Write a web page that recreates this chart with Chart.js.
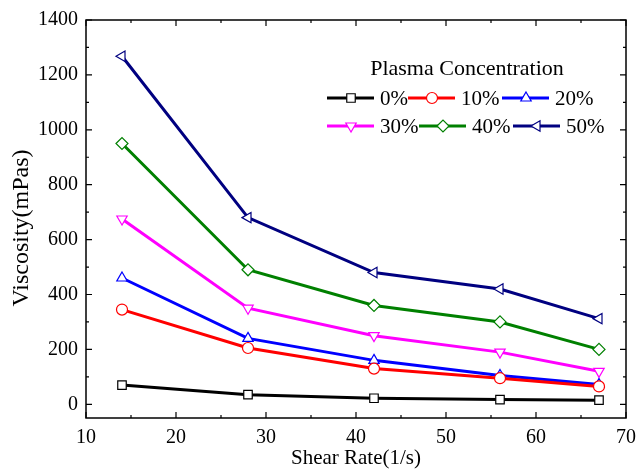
<!DOCTYPE html>
<html>
<head>
<meta charset="utf-8">
<script src="https://cdn.jsdelivr.net/npm/chart.js@4.4.1/dist/chart.umd.min.js"></script>
<style>
  html, body { margin: 0; padding: 0; background: #fff; }
  #wrap { width: 644px; height: 471px; }
</style>
</head>
<body>
<div id="wrap"><canvas id="viscChart" width="644" height="471"></canvas></div>
<script>
// shear rate (1/s)
const shearRates = [14, 28, 42, 56, 67];

// viscosity (mPas) per plasma concentration
const labels = ["0%", "10%", "20%", "30%", "40%", "50%"];
const visc0  = [70, 35, 22, 17, 15];
const visc10 = [345, 205, 130, 95, 65];
const visc20 = [460, 240, 160, 105, 72];
const visc30 = [675, 350, 250, 190, 120];
const visc40 = [950, 490, 360, 300, 200];
const visc50 = [1268, 680, 480, 420, 312];

const yTicks = [0, 200, 400, 600, 800, 1000, 1200, 1400];
const xTicks = [10, 20, 30, 40, 50, 60, 70];

const seriesColors = ["#000000", "#ff0000", "#0000ff", "#ff00ff", "#008000", "#000080"];
const seriesShapes = ["rect", "circle", "triangle", "triangle", "rectRot", "triangle"];
const seriesRot = [0, 0, 0, 180, 0, -90];
const allValues = [visc0, visc10, visc20, visc30, visc40, visc50];

const FONT = "'Liberation Serif', 'Times New Roman', serif";

const datasets = allValues.map((vals, i) => ({
    label: labels[i],
    data: vals.map((v, j) => ({ x: shearRates[j], y: v })),
    borderColor: seriesColors[i],
    borderWidth: 3,
    pointStyle: seriesShapes[i],
    pointRotation: seriesRot[i],
    pointRadius: seriesShapes[i] === "circle" ? 5.5 : 6,
    pointBackgroundColor: "#ffffff",
    pointBorderColor: seriesColors[i],
    pointBorderWidth: 1.2,
    tension: 0
}));

// ===================== BOX + INWARD TICKS + Y TITLE =====================
const frameTicks = {
    id: "frameTicks",
    afterDatasetsDraw(chart) {
        const { ctx, chartArea: a, scales: { x, y } } = chart;
        ctx.save();
        ctx.strokeStyle = "#000";
        ctx.lineWidth = 1.5;
        ctx.strokeRect(a.left, a.top, a.right - a.left, a.bottom - a.top);
        ctx.lineWidth = 1.2;
        ctx.beginPath();
        for (let v = 10; v <= 70; v += 5) {
            const px = x.getPixelForValue(v);
            const len = v % 10 === 0 ? 6 : 3;
            ctx.moveTo(px, a.bottom); ctx.lineTo(px, a.bottom - len);
            ctx.moveTo(px, a.top); ctx.lineTo(px, a.top + len);
        }
        for (let v = 0; v <= 1400; v += 100) {
            const py = y.getPixelForValue(v);
            const len = v % 200 === 0 ? 6 : 3;
            ctx.moveTo(a.left, py); ctx.lineTo(a.left + len, py);
            ctx.moveTo(a.right, py); ctx.lineTo(a.right - len, py);
        }
        ctx.stroke();

        // y axis title, a bit below the plot centre like the original
        ctx.translate(22, 228);
        ctx.rotate(-Math.PI / 2);
        ctx.fillStyle = "#000";
        ctx.font = "24px " + FONT;
        ctx.textAlign = "center";
        ctx.textBaseline = "middle";
        ctx.fillText("Viscosity(mPas)", 0, 0);
        ctx.restore();
    }
};

// ===================== LEGEND (line + marker) =====================
const lineLegend = {
    id: "lineLegend",
    afterDraw(chart) {
        const ctx = chart.ctx;
        ctx.save();
        ctx.fillStyle = "#000";
        ctx.font = "22px " + FONT;
        ctx.textAlign = "center";
        ctx.textBaseline = "middle";
        ctx.fillText("Plasma Concentration", 467, 69);
        const cols = [[327, 408, 502], [327, 419, 513]];
        const rows = [98, 126];
        ctx.font = "21px " + FONT;
        ctx.textAlign = "left";
        chart.data.datasets.forEach((ds, i) => {
            const r = Math.floor(i / 3);
            const x0 = cols[r][i % 3];
            const yy = rows[r];
            ctx.strokeStyle = ds.borderColor;
            ctx.lineWidth = 3;
            ctx.beginPath();
            ctx.moveTo(x0, yy);
            ctx.lineTo(x0 + 47, yy);
            ctx.stroke();
            ctx.fillStyle = "#fff";
            ctx.strokeStyle = ds.borderColor;
            ctx.lineWidth = 1.2;
            Chart.helpers.drawPoint(ctx, {
                pointStyle: ds.pointStyle,
                rotation: ds.pointRotation,
                radius: ds.pointRadius,
                borderWidth: 1.2
            }, x0 + 24, yy);
            ctx.fillStyle = "#000";
            ctx.fillText(ds.label, x0 + 53, yy + 1);
        });
        ctx.restore();
    }
};

new Chart(document.getElementById("viscChart"), {
    type: "line",
    data: { datasets: datasets },
    options: {
        responsive: false,
        animation: false,
        layout: { padding: { top: 19, right: 12, left: 0, bottom: 0 } },
        plugins: { legend: { display: false }, tooltip: { enabled: false } },
        scales: {
            x: {
                type: "linear",
                min: 10,
                max: 70,
                afterBuildTicks: (s) => { s.ticks = xTicks.map(v => ({ value: v })); },
                afterFit: (s) => { s.height = 53; },
                grid: { display: false, drawTicks: false },
                border: { display: false },
                ticks: {
                    color: "#000", padding: 8, font: { family: FONT, size: 20 },
                    callback: (v) => String(v)
                },
                title: {
                    display: true,
                    text: "Shear Rate(1/s)",
                    color: "#000",
                    padding: { top: 2, bottom: 0 },
                    font: { family: FONT, size: 21 }
                }
            },
            y: {
                type: "linear",
                min: -50,
                max: 1400,
                afterBuildTicks: (s) => { s.ticks = yTicks.map(v => ({ value: v })); },
                afterFit: (s) => { s.width = 86; },
                grid: { display: false, drawTicks: false },
                border: { display: false },
                ticks: {
                    color: "#000", padding: 8, font: { family: FONT, size: 20 },
                    callback: (v) => String(v)
                },
                title: { display: false }
            }
        }
    },
    plugins: [frameTicks, lineLegend]
});
</script>
</body>
</html>
